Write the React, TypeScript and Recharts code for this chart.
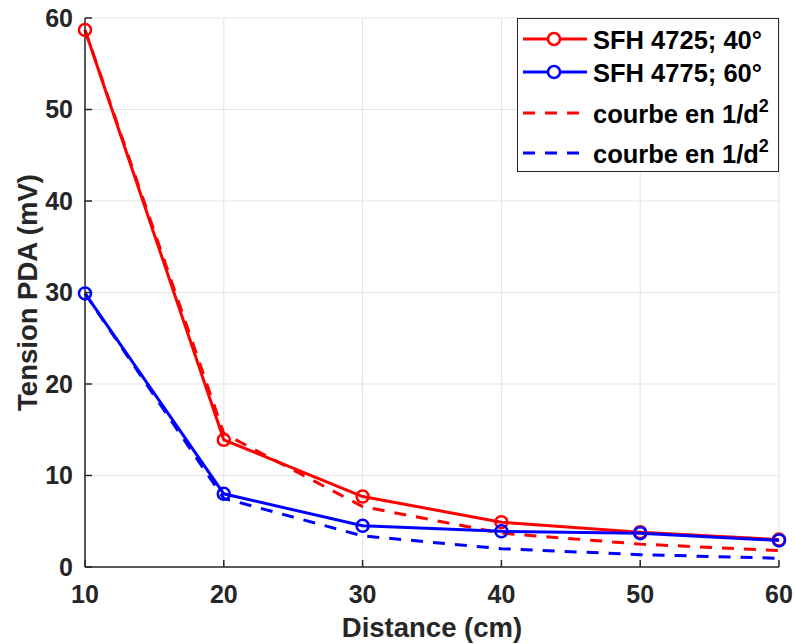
import { LineChart, Line, XAxis, YAxis, CartesianGrid } from "recharts"

const distances = [10, 20, 30, 40, 50, 60]
const sfh4725 = [58.7, 13.9, 7.7, 4.9, 3.8, 3.0]
const sfh4775 = [29.9, 8.0, 4.5, 3.9, 3.7, 2.9]
const courbeRouge = [58.7, 14.6, 6.6, 3.7, 2.5, 1.8]
const courbeBleue = [29.9, 7.5, 3.4, 2.0, 1.35, 0.95]
const xTicks = [10, 20, 30, 40, 50, 60]
const yTicks = [0, 10, 20, 30, 40, 50, 60]
const legendLabels = ["SFH 4725; 40°", "SFH 4775; 60°", "courbe en 1/d", "courbe en 1/d"]

const data = distances.map((d, i) => ({
  d,
  red: sfh4725[i],
  blue: sfh4775[i],
  redFit: courbeRouge[i],
  blueFit: courbeBleue[i],
}))

const FONT = "'Liberation Sans', Arial, Helvetica, sans-serif"
const AXIS = "#262626"
const RED = "#ff0000"
const BLUE = "#0000ff"
const DASH = "12 10"

const tickStyle = { fill: AXIS, fontSize: 25, fontWeight: 700, fontFamily: FONT }

function LegendBox() {
  const rows = [
    { color: RED, dashed: false, base: 30, sup: false },
    { color: BLUE, dashed: false, base: 63, sup: false },
    { color: RED, dashed: true, base: 104, sup: true },
    { color: BLUE, dashed: true, base: 144, sup: true },
  ]
  return (
    <div
      style={{
        position: "absolute",
        left: 517,
        top: 18,
        width: 262,
        height: 154,
        border: `1.5px solid ${AXIS}`,
        boxSizing: "border-box",
        background: "#fff",
      }}
    >
      <svg width={260} height={152}>
        {rows.map((r, i) => {
          const cy = r.base - 10
          return (
            <g key={i}>
              <line
                x1={5}
                x2={69}
                y1={cy}
                y2={cy}
                stroke={r.color}
                strokeWidth={3}
                strokeDasharray={r.dashed ? DASH : undefined}
              />
              {!r.dashed && (
                <circle cx={36} cy={cy} r={6} fill="#fff" stroke={r.color} strokeWidth={2.5} />
              )}
              <text
                x={75}
                y={r.base}
                fontFamily={FONT}
                fontWeight={700}
                fontSize={25.5}
                fill="#000"
              >
                {legendLabels[i]}
                {r.sup && (
                  <tspan dy={-11} fontSize={18}>
                    2
                  </tspan>
                )}
              </text>
            </g>
          )
        })}
      </svg>
    </div>
  )
}

export default function App() {
  return (
    <div
      style={{
        position: "absolute",
        left: 0,
        top: 0,
        width: 795,
        height: 644,
        background: "#fff",
      }}
    >
      <LineChart
        width={795}
        height={644}
        data={data}
        margin={{ top: 18, right: 16, left: 0, bottom: 0 }}
      >
        <CartesianGrid stroke="#e3e3e3" strokeWidth={1} />
        <XAxis
          dataKey="d"
          type="number"
          domain={[10, 60]}
          ticks={xTicks}
          height={77}
          tick={tickStyle}
          tickSize={-7}
          tickMargin={25}
          axisLine={{ stroke: AXIS, strokeWidth: 1.5 }}
          tickLine={{ stroke: AXIS, strokeWidth: 1.5 }}
          label={{
            content: (props: any) => {
              const vb = props.viewBox
              return (
                <text
                  x={vb.x + vb.width / 2}
                  y={vb.y + 70}
                  textAnchor="middle"
                  fontFamily={FONT}
                  fontWeight={700}
                  fontSize={27.5}
                  fill={AXIS}
                >
                  Distance (cm)
                </text>
              )
            },
          }}
        />
        <XAxis
          xAxisId="top"
          orientation="top"
          dataKey="d"
          type="number"
          domain={[10, 60]}
          ticks={xTicks}
          height={0}
          tick={false}
          tickSize={-7}
          axisLine={{ stroke: AXIS, strokeWidth: 1.5 }}
          tickLine={{ stroke: AXIS, strokeWidth: 1.5 }}
        />
        <YAxis
          type="number"
          domain={[0, 60]}
          ticks={yTicks}
          width={85}
          tick={tickStyle}
          tickSize={-7}
          tickMargin={19}
          axisLine={{ stroke: AXIS, strokeWidth: 1.5 }}
          tickLine={{ stroke: AXIS, strokeWidth: 1.5 }}
          label={{
            content: (props: any) => {
              const vb = props.viewBox
              const cx = vb.x + 37
              const cy = vb.y + vb.height / 2
              return (
                <text
                  x={cx}
                  y={cy}
                  transform={`rotate(-90, ${cx}, ${cy})`}
                  textAnchor="middle"
                  fontFamily={FONT}
                  fontWeight={700}
                  fontSize={27.5}
                  fill={AXIS}
                >
                  Tension PDA (mV)
                </text>
              )
            },
          }}
        />
        <YAxis
          yAxisId="right"
          orientation="right"
          type="number"
          domain={[0, 60]}
          ticks={yTicks}
          width={0}
          tick={false}
          tickSize={-7}
          axisLine={{ stroke: AXIS, strokeWidth: 1.5 }}
          tickLine={{ stroke: AXIS, strokeWidth: 1.5 }}
        />
        <Line
          dataKey="redFit"
          stroke={RED}
          strokeWidth={3}
          strokeDasharray={DASH}
          dot={false}
          isAnimationActive={false}
        />
        <Line
          dataKey="blueFit"
          stroke={BLUE}
          strokeWidth={3}
          strokeDasharray={DASH}
          dot={false}
          isAnimationActive={false}
        />
        <Line
          dataKey="red"
          stroke={RED}
          strokeWidth={3}
          dot={{ r: 6, fill: "none", stroke: RED, strokeWidth: 2.5 }}
          isAnimationActive={false}
        />
        <Line
          dataKey="blue"
          stroke={BLUE}
          strokeWidth={3}
          dot={{ r: 6, fill: "none", stroke: BLUE, strokeWidth: 2.5 }}
          isAnimationActive={false}
        />
      </LineChart>
      <LegendBox />
    </div>
  )
}
